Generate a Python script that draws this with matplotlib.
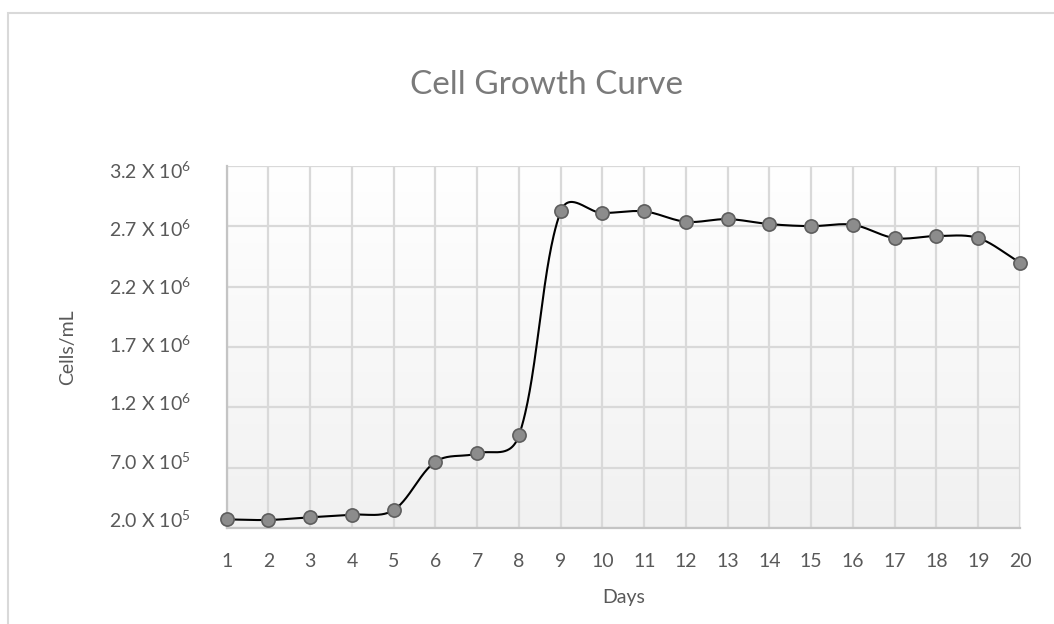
import numpy as np
import matplotlib
matplotlib.use("Agg")
import matplotlib.pyplot as plt
from matplotlib.patches import Rectangle
from matplotlib.ticker import FixedLocator, FuncFormatter
from matplotlib.transforms import ScaledTranslation

plt.rcParams["font.family"] = ["Lato", "DejaVu Sans"]
plt.rcParams["mathtext.fontset"] = "custom"
plt.rcParams["mathtext.rm"] = "Lato"
plt.rcParams["mathtext.it"] = "Lato"

# Culture density per day
days = list(range(1, 21))
cells_per_ml = [
    0.274e6, 0.269e6, 0.291e6, 0.312e6, 0.351e6,
    0.751e6, 0.820e6, 0.969e6, 2.822e6, 2.808e6,
    2.822e6, 2.736e6, 2.758e6, 2.717e6, 2.700e6,
    2.711e6, 2.601e6, 2.618e6, 2.601e6, 2.397e6,
]
y_ticks = [0.2e6, 0.7e6, 1.2e6, 1.7e6, 2.2e6, 2.7e6, 3.2e6]

title = "Cell Growth Curve"
x_title = "Days"
y_title = "Cells/mL"

TEXT = "#595959"
GRID = "#d9d9d9"


def smooth_curve(pts, n=60):
    """Cubic Bezier smoothing through every point (screen space),
    with control arms weighted by neighbouring segment lengths."""
    pts = np.asarray(pts, dtype=float)
    m = len(pts)
    out = []
    for i in range(m - 1):
        p0 = pts[max(i - 1, 0)]
        p1 = pts[i]
        p2 = pts[i + 1]
        p3 = pts[min(i + 2, m - 1)]
        d01 = np.sqrt(np.hypot(*(p1 - p0)))
        d12 = np.sqrt(np.hypot(*(p2 - p1)))
        d23 = np.sqrt(np.hypot(*(p3 - p2)))
        w1 = d12 / (d01 + d12) if d01 + d12 > 0 else 0.5
        w2 = d12 / (d12 + d23) if d12 + d23 > 0 else 0.5
        c1 = p1 + (p2 - p0) * w1 / 3.0
        c2 = p2 - (p3 - p1) * w2 / 3.0
        t = np.linspace(0, 1, n)[:, None]
        seg = ((1 - t) ** 3) * p1 + 3 * ((1 - t) ** 2) * t * c1 \
            + 3 * (1 - t) * t ** 2 * c2 + t ** 3 * p2
        out.append(seg if i == 0 else seg[1:])
    return np.vstack(out)


def sci_label(v, pos=None):
    exp = int(np.floor(np.log10(v)))
    mant = v / 10 ** exp
    return f"{mant:.1f} X 10$\\mathregular{{^{{{exp}}}}}$"


fig = plt.figure(figsize=(10.54, 6.24), dpi=100)
fig.patch.set_facecolor("white")

# chart frame
fig.patches.append(Rectangle((7.5 / 1054, -0.1), 1.2, 1.1 - 12.7 / 624,
                             transform=fig.transFigure, fill=False,
                             edgecolor=GRID, linewidth=1.5, zorder=0))

ax = fig.add_axes([226.7 / 1054, 1 - 528.3 / 624,
                   (1020 - 226.7) / 1054, (528.3 - 165.7) / 624])

# vertical gradient fill of the plot area
grad = np.linspace(1, 0, 256)[:, None]
bg = matplotlib.colors.LinearSegmentedColormap.from_list(
    "bg", ["#ffffff", "#f1f1f1"])
ax.imshow(grad, cmap=bg, aspect="auto", origin="lower",
          extent=[days[0], days[-1], y_ticks[0], y_ticks[-1]], zorder=0)
ax.set_xlim(days[0], days[-1])
ax.set_ylim(y_ticks[0], y_ticks[-1])

ax.xaxis.set_major_locator(FixedLocator(days))
ax.yaxis.set_major_locator(FixedLocator(y_ticks))
ax.yaxis.set_major_formatter(FuncFormatter(sci_label))
ax.grid(True, color=GRID, linewidth=1.6, zorder=1)
ax.set_axisbelow(True)

for side in ("top", "right"):
    ax.spines[side].set_visible(False)
for side in ("left", "bottom"):
    ax.spines[side].set_color("#c4c4c4")
    ax.spines[side].set_linewidth(1.6)

ax.tick_params(axis="both", length=0, labelsize=14, colors=TEXT)
ax.tick_params(axis="y", pad=26)
ax.tick_params(axis="x", pad=18)
# value labels sit slightly inside the outer gridlines
for k, lbl in enumerate(ax.get_yticklabels()):
    shift = 9.8 - 2.27 * k
    lbl.set_transform(lbl.get_transform()
                      + ScaledTranslation(0, shift / 100, fig.dpi_scale_trans))

# smoothed line computed in display space, mapped back to data
disp = ax.transData.transform(np.column_stack([days, cells_per_ml]))
curve = ax.transData.inverted().transform(smooth_curve(disp))
ax.plot(curve[:, 0], curve[:, 1], color="black", linewidth=1.5,
        zorder=3, clip_on=False)
ax.plot(days, cells_per_ml, linestyle="none", marker="o", markersize=9.5,
        markerfacecolor="#8c8c8c", markeredgecolor="#5e5e5e",
        markeredgewidth=1.2, zorder=4, clip_on=False)

ax.set_xlabel(x_title, fontsize=14, color=TEXT)
ax.set_ylabel(y_title, fontsize=14, color=TEXT)
ax.xaxis.set_label_coords(0.5, (528.3 - 597) / 362.6)
ax.yaxis.set_label_coords((68 - 226.7) / 793.3, 0.5)
ax.xaxis.label.set_va("center")
ax.yaxis.label.set_va("center")
ax.yaxis.label.set_ha("center")

fig.text(547 / 1054, 1 - 85 / 624, title, ha="center", va="center",
         fontsize=24, color="#7a7a7a")

fig.savefig("out.png", dpi=100, facecolor="white")
